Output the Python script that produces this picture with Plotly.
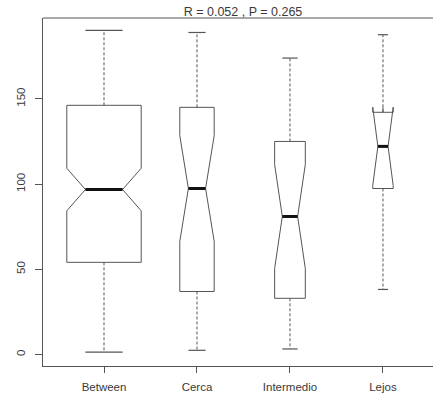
import plotly.graph_objects as go

categories = ["Between", "Cerca", "Intermedio", "Lejos"]
lower_whisker = [1.4, 2.5, 3.3, 38.2]
q1_vals = [54.1, 37.0, 33.0, 97.4]
median_vals = [96.8, 97.4, 81.0, 122.1]
q3_vals = [146.2, 145.0, 125.0, 142.1]
upper_whisker = [190.2, 188.9, 173.9, 187.6]
notch_span = [12.5, 31.0, 30.5, 23.0]
box_widths = [0.80, 0.37, 0.33, 0.22]   # varwidth (sqrt n) relative widths
y_ticks = [0, 50, 100, 150]
title_text = "R = 0.052 , P = 0.265"

LINE = "#555555"
FONT = dict(family="Liberation Sans, Arial, sans-serif", size=11.5, color="#3a3a3a")
TITLE_FONT = dict(family="Liberation Sans, Arial, sans-serif", size=12.5, color="#3a3a3a")

positions = list(range(1, len(categories) + 1))

fig = go.Figure()

for i, cat in enumerate(categories):
    pos = positions[i]
    w = box_widths[i]
    fig.add_trace(go.Box(
        x=[pos], q1=[q1_vals[i]], median=[median_vals[i]], q3=[q3_vals[i]],
        lowerfence=[q1_vals[i]], upperfence=[q3_vals[i]],
        notchspan=[notch_span[i]], notched=True, notchwidth=0.25,
        width=w, whiskerwidth=0, boxpoints=False,
        line=dict(color=LINE, width=1), fillcolor="rgba(255,255,255,0)",
        name=cat, showlegend=False, hoverinfo="skip",
    ))
    # dashed whiskers
    fig.add_trace(go.Scatter(
        x=[pos, pos, None, pos, pos],
        y=[q3_vals[i], upper_whisker[i], None, q1_vals[i], lower_whisker[i]],
        mode="lines", line=dict(color=LINE, width=1, dash="3px,2px"),
        showlegend=False, hoverinfo="skip",
    ))
    # staples
    cw = w / 4
    fig.add_trace(go.Scatter(
        x=[pos - cw, pos + cw, None, pos - cw, pos + cw],
        y=[upper_whisker[i], upper_whisker[i], None, lower_whisker[i], lower_whisker[i]],
        mode="lines", line=dict(color=LINE, width=1.2),
        showlegend=False, hoverinfo="skip",
    ))
    # thick median
    fig.add_trace(go.Scatter(
        x=[pos - w / 4, pos + w / 4], y=[median_vals[i], median_vals[i]],
        mode="lines", line=dict(color="#111111", width=3),
        showlegend=False, hoverinfo="skip",
    ))

fig.update_layout(
    width=433, height=396,
    margin=dict(l=43, r=0, t=18, b=30, autoexpand=False),
    paper_bgcolor="white", plot_bgcolor="white",
    boxmode="overlay",
    font=FONT,
    title=dict(text=title_text, font=TITLE_FONT, x=(243 - 43) / 390, xref="paper", xanchor="center",
               y=1 - 12 / 396, yref="container", yanchor="middle", automargin=False),
    xaxis=dict(range=[0.344, 4.538], tickvals=positions, ticktext=categories,
               showline=True, linecolor=LINE, linewidth=1, ticks="outside", ticklen=6,
               tickcolor=LINE, showgrid=False, zeroline=False, tickfont=FONT,
               ticklabelstandoff=4, automargin=False),
    yaxis=dict(range=[-6.7, 197.4], tickvals=y_ticks, tickangle=-90,
               showline=True, linecolor=LINE, linewidth=1, ticks="outside", ticklen=7,
               tickcolor=LINE, showgrid=False, zeroline=False, tickfont=FONT,
               ticklabelstandoff=5, automargin=False),
    shapes=[dict(type="line", xref="paper", yref="paper", x0=0, x1=1, y0=1, y1=1,
                 line=dict(color=LINE, width=1))],
)

fig.write_html("out.html", config={"displayModeBar": False},
               post_script="document.body.style.margin='0';document.body.style.overflow='hidden';")
